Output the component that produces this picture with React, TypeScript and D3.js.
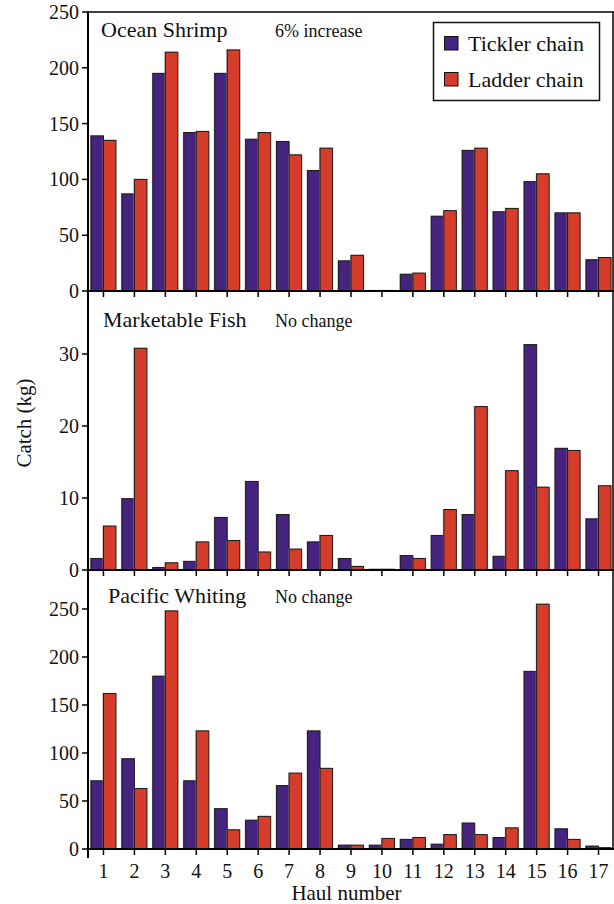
import React from "react";
import * as d3 from "d3";

const hauls = ["1","2","3","4","5","6","7","8","9","10","11","12","13","14","15","16","17"];
const seriesNames = ["Tickler chain", "Ladder chain"];
const seriesColors = ["#45237f", "#d53d2a"];

const shrimpTickler = [139, 87, 195, 142, 195, 136, 134, 108, 27, 0.5, 15, 67, 126, 71, 98, 70, 28];
const shrimpLadder = [135, 100, 214, 143, 216, 142, 122, 128, 32, 0.5, 16, 72, 128, 74, 105, 70, 30];
const fishTickler = [1.6, 9.9, 0.35, 1.2, 7.3, 12.3, 7.7, 3.9, 1.6, 0.1, 2.0, 4.8, 7.7, 1.9, 31.3, 16.9, 7.1];
const fishLadder = [6.1, 30.8, 1.0, 3.9, 4.1, 2.5, 2.9, 4.8, 0.5, 0.1, 1.6, 8.4, 22.7, 13.8, 11.5, 16.6, 11.7];
const whitingTickler = [71, 94, 180, 71, 42, 30, 66, 123, 4, 4, 10, 5, 27, 12, 185, 21, 3];
const whitingLadder = [162, 63, 248, 123, 20, 34, 79, 84, 4, 11, 12, 15, 15, 22, 255, 10, 1.4];

const shrimpTicks = [0, 50, 100, 150, 200, 250];
const fishTicks = [0, 10, 20, 30];
const whitingTicks = [0, 50, 100, 150, 200, 250];

const panels = [
  { title: "Ocean Shrimp", note: "6% increase", t: shrimpTickler, l: shrimpLadder, ticks: shrimpTicks, max: 250, top: 12, bottom: 291, titleX: 101, titleY: 37 },
  { title: "Marketable Fish", note: "No change", t: fishTickler, l: fishLadder, ticks: fishTicks, max: 38.75, top: 291, bottom: 570, titleX: 103, titleY: 327 },
  { title: "Pacific Whiting", note: "No change", t: whitingTickler, l: whitingLadder, ticks: whitingTicks, max: 290.6, top: 570, bottom: 849, titleX: 108, titleY: 603 },
];

const W = 614, H = 904;
const left = 88, right = 613;
const ff = { fontFamily: "'Liberation Serif', 'Times New Roman', Times, serif" };

export default function App() {
  const x = d3.scaleBand<string>().domain(hauls).range([left, right + 1]).paddingInner(0.19).paddingOuter(0.095);
  const x1 = d3.scaleBand<string>().domain(["t", "l"]).range([0, x.bandwidth()]);

  return (
    <svg width={W} height={H} style={{ position: "absolute", left: 0, top: 0, background: "#fff" }}>
      {panels.map((p, pi) => {
        const y = d3.scaleLinear().domain([0, p.max]).range([p.bottom, p.top]);
        return (
          <g key={pi}>
            {hauls.map((h, i) => (
              <g key={h}>
                {[p.t[i], p.l[i]].map((v, s) => {
                  const bx = (x(h) as number) + (x1(s === 0 ? "t" : "l") as number);
                  const by = y(v);
                  return (
                    <g key={s}>
                      <rect x={bx - 1} y={by - 0.5} width={x1.bandwidth()} height={p.bottom - by + 0.5} fill="#9a9a9a" opacity={0.7} />
                      <rect x={bx} y={by} width={x1.bandwidth()} height={p.bottom - by} fill={seriesColors[s]} stroke="#1a1a1a" strokeWidth={1} />
                    </g>
                  );
                })}
              </g>
            ))}
            {p.ticks.map((t) => (
              <g key={t}>
                <line x1={left - 6} x2={left} y1={y(t)} y2={y(t)} stroke="#000" strokeWidth={1.5} />
                <text x={left - 9} y={y(t)} dy="0.35em" textAnchor="end" fontSize={20} fill="#111" style={ff}>{t}</text>
              </g>
            ))}
            {hauls.map((h) => {
              const cx = (x(h) as number) + x.bandwidth() / 2;
              return <line key={h} x1={cx} x2={cx} y1={p.bottom} y2={p.bottom + 6} stroke="#000" strokeWidth={1.5} />;
            })}
            <line x1={left} x2={right + 1} y1={p.bottom} y2={p.bottom} stroke="#000" strokeWidth={2} />
            <text x={p.titleX} y={p.titleY} fontSize={22} fill="#111" style={ff}>{p.title}</text>
            <text x={275} y={p.titleY} fontSize={18} fill="#111" style={ff}>{p.note}</text>
          </g>
        );
      })}
      <line x1={left} x2={right + 1} y1={12} y2={12} stroke="#000" strokeWidth={1.5} />
      <line x1={right} x2={right} y1={12} y2={849} stroke="#000" strokeWidth={1.5} />
      <line x1={left} x2={left} y1={11} y2={858} stroke="#000" strokeWidth={2} />
      {hauls.map((h) => (
        <text key={h} x={(x(h) as number) + x.bandwidth() / 2} y={878} textAnchor="middle" fontSize={20} fill="#111" style={ff}>{h}</text>
      ))}
      <text x={(left + right) / 2 - 4} y={900} textAnchor="middle" fontSize={21} fill="#111" style={ff}>Haul number</text>
      <text transform={`translate(31,423) rotate(-90)`} textAnchor="middle" fontSize={21} fill="#111" style={ff}>Catch (kg)</text>
      <rect x={433.5} y={22.5} width={166} height={78} fill="#fff" stroke="#111" strokeWidth={1.5} />
      {seriesNames.map((n, i) => (
        <g key={n}>
          <rect x={444.5} y={36.5 + i * 36} width={13.5} height={13.5} fill={seriesColors[i]} stroke="#111" strokeWidth={1} />
          <text x={468} y={51 + i * 36} fontSize={22} fill="#111" style={ff}>{n}</text>
        </g>
      ))}
    </svg>
  );
}
